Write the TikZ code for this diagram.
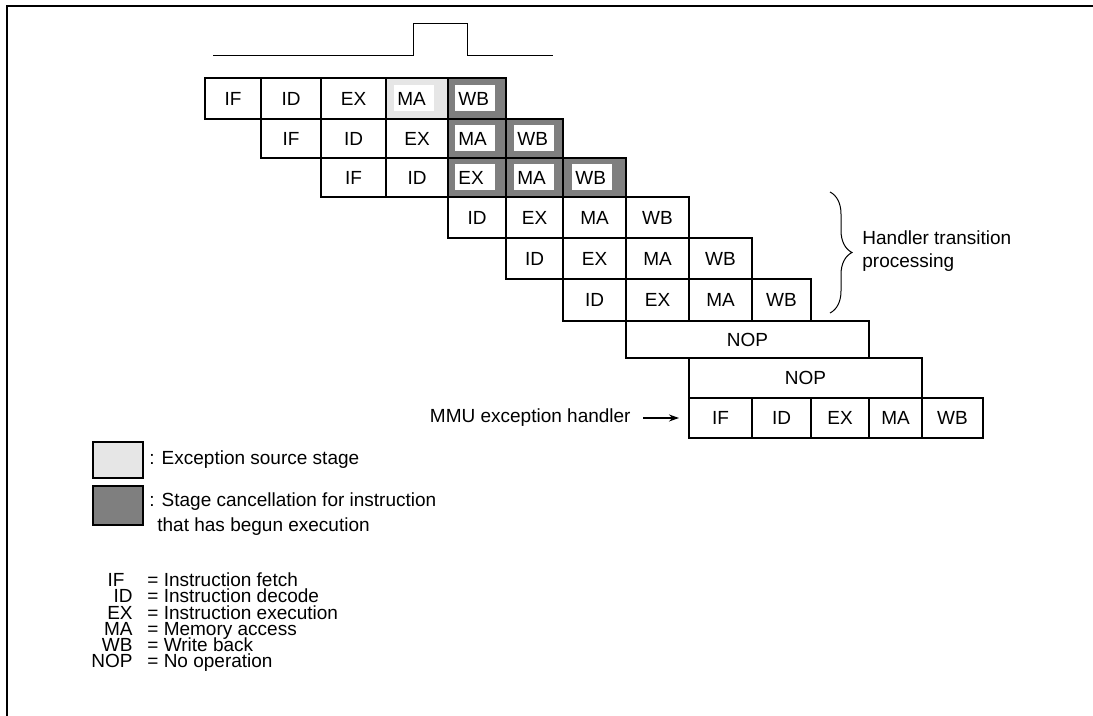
\documentclass[tikz,border=0pt]{standalone}
\usepackage{fontspec}
\setmainfont{Liberation Sans}
\usepackage{tikz}
\usetikzlibrary{decorations.pathreplacing,arrows.meta,positioning}
\definecolor{srcgray}{HTML}{E6E6E6}
\definecolor{cangray}{HTML}{7F7F7F}

\begin{document}
\begin{tikzpicture}[x=0.5pt, y=-0.5pt,
  every node/.style={font=\fontsize{9.5pt}{11.4pt}\selectfont},
  cell/.style={draw, line width=1pt, inner sep=0pt},
  src/.style={fill=srcgray},
  cancel/.style={fill=cangray},
  tag/.style={fill=white, text width=17pt, align=left, inner xsep=1.5pt, inner ysep=0pt, minimum height=13pt},
  keybox/.style={draw, line width=1.3pt, inner sep=0pt},
  txt/.style={inner sep=0pt},
  abbr/.style={inner sep=0pt, anchor=base east},
  expl/.style={inner sep=0pt, anchor=base west}]

\newcommand\PX{0.5pt}
\newcommand\stage[7][]{\node[cell,#1,minimum width={(#4-#3)*\PX},minimum height={(#6-#5)*\PX}] (#2) at ({(#3+#4)/2},{(#5+#6)/2}) {#7};}

\useasboundingbox (0,0) rectangle (1093,716);

%% frame
\draw[line width=0.9pt] (7,716) -- (7,6) -- (1093,6);

%% pulse
\draw[line width=0.7pt] (213,55.5) -- (413.5,55.5) -- (413.5,23.5) -- (467.5,23.5) -- (467.5,55.5) -- (553,55.5);

%% instruction 1
\stage{r1a}{205}{261}{78}{119}{IF}
\stage{r1b}{261}{321}{78}{119}{ID}
\stage{r1c}{321}{386}{78}{119}{EX}
\stage[src]{r1d}{386}{448}{78}{119}{}
\stage[cancel]{r1e}{448}{506}{78}{119}{}
\node[tag, right=4.5pt of r1d.west] (r1dt) {MA};
\node[tag, right=4pt of r1e.west] (r1et) {WB};

%% instruction 2
\stage{r2a}{261}{321}{119}{158}{IF}
\stage{r2b}{321}{386}{119}{158}{ID}
\stage{r2c}{386}{448}{119}{158}{EX}
\stage[cancel]{r2d}{448}{506}{119}{158}{}
\stage[cancel]{r2e}{506}{563}{119}{158}{}
\node[tag, right=4pt of r2d.west] (r2dt) {MA};
\node[tag, right=4.5pt of r2e.west] (r2et) {WB};

%% instruction 3
\stage{r3a}{321}{386}{158}{197}{IF}
\stage{r3b}{386}{448}{158}{197}{ID}
\stage[cancel]{r3c}{448}{506}{158}{197}{}
\stage[cancel]{r3d}{506}{563}{158}{197}{}
\stage[cancel]{r3e}{563}{626}{158}{197}{}
\node[tag, right=4pt of r3c.west] (r3ct) {EX};
\node[tag, right=4.5pt of r3d.west] (r3dt) {MA};
\node[tag, right=5pt of r3e.west] (r3et) {WB};

%% handler transition
\stage{r4b}{448}{506}{197}{238}{ID}
\stage{r4c}{506}{563}{197}{238}{EX}
\stage{r4d}{563}{626}{197}{238}{MA}
\stage{r4e}{626}{689}{197}{238}{WB}

\stage{r5b}{506}{563}{238}{279}{ID}
\stage{r5c}{563}{626}{238}{279}{EX}
\stage{r5d}{626}{689}{238}{279}{MA}
\stage{r5e}{689}{752}{238}{279}{WB}

\stage{r6b}{563}{626}{279}{321}{ID}
\stage{r6c}{626}{689}{279}{321}{EX}
\stage{r6d}{689}{752}{279}{321}{MA}
\stage{r6e}{752}{811}{279}{321}{WB}

\coordinate (btop) at (830,192);
\coordinate (bbot) at (830,313);
\draw[decorate, decoration={brace, amplitude=11pt}, line width=0.5pt] (btop) -- (bbot);
\node[txt, align=left, anchor=west] (hdl) at (862,251) {Handler transition\\processing};

%% nop
\stage{r7}{626}{869}{321}{358}{NOP}
\stage{r8}{689}{922}{358}{398}{NOP}

%% handler
\stage{r9a}{689}{752}{398}{438}{IF}
\stage{r9b}{752}{811}{398}{438}{ID}
\stage{r9c}{811}{869}{398}{438}{EX}
\stage{r9d}{869}{922}{398}{438}{MA}
\stage{r9e}{922}{983}{398}{438}{WB}

\node[txt, anchor=east] (mmu) at (631,418) {MMU exception handler};
\draw[line width=0.6pt, -{Stealth[length=5pt,width=3.5pt]}, shorten <=6pt, shorten >=4.5pt] (mmu.east) -- (r9a.west);

%% legend
\stage[keybox,src]{keysrc}{93}{143}{442}{478}{}
\stage[keybox,cancel]{keycan}{93}{143}{486}{525}{}
\node[txt, anchor=west] (keysrct) at (149,460) {: Exception source stage};
\node[txt, anchor=west] (keycant) at (149,502) {: Stage cancellation for instruction};
\node[txt, anchor=west] (keycanu) at (157,527) {that has begun execution};

%% abbreviations
\node[abbr] (abif) at (125,586.5) {IF};
\node[abbr] (abid) at (133,603) {ID};
\node[abbr] (abex) at (133,619.5) {EX};
\node[abbr] (abma) at (133,635.5) {MA};
\node[abbr] (abwb) at (133,651.5) {WB};
\node[abbr] (abnop) at (133,667.5) {NOP};
\node[expl] (deif) at (147,586.5) {= Instruction fetch};
\node[expl] (deid) at (147,603) {= Instruction decode};
\node[expl] (deex) at (147,619.5) {= Instruction execution};
\node[expl] (dema) at (147,635.5) {= Memory access};
\node[expl] (dewb) at (147,651.5) {= Write back};
\node[expl] (denop) at (147,667.5) {= No operation};

\end{tikzpicture}
\end{document}
